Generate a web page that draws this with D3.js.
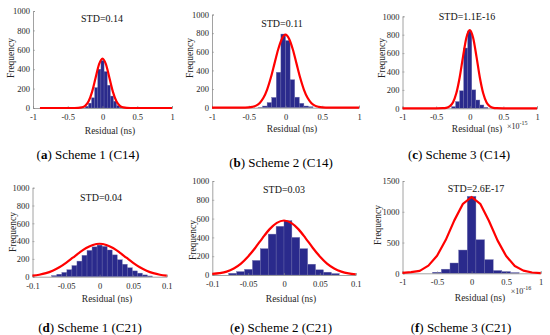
<!DOCTYPE html>
<html>
<head>
<meta charset="utf-8">
<script src="https://cdn.jsdelivr.net/npm/d3@7"></script>
<style>
  body { margin: 0; background: #fff; }
  svg text { font-family: "Liberation Serif", "Times New Roman", serif; }
</style>
</head>
<body>
<div id="chart"></div>
<script>
// histogram bins (centres, counts) and fitted curve samples per panel
var aCenters = [-0.225, -0.18, -0.135, -0.09, -0.045, 0, 0.045, 0.09, 0.135, 0.18, 0.225, 0.27];
var aCounts  = [18, 50, 105, 210, 400, 490, 375, 235, 123, 70, 25, 8];
var aFitX = [-0.9, -0.5, -0.4, -0.35, -0.3, -0.25, -0.2, -0.15, -0.1, -0.05, 0, 0.05, 0.1, 0.15, 0.2, 0.25, 0.3, 0.35, 0.4, 0.5, 1];
var aFitY = [0, 0, 0.2, 1, 6, 22, 69, 166, 309, 450, 510, 450, 309, 166, 69, 22, 6, 1, 0.2, 0, 0];

var bCenters = [-0.34375, -0.28125, -0.21875, -0.15625, -0.09375, -0.03125, 0.03125, 0.09375, 0.15625, 0.21875, 0.28125, 0.34375];
var bCounts  = [4, 18, 55, 110, 380, 790, 720, 300, 113, 47, 18, 10];
var bFitX = [-1, -0.6, -0.5, -0.45, -0.4, -0.35, -0.3, -0.25, -0.2, -0.15, -0.1, -0.05, 0, 0.05, 0.1, 0.15, 0.2, 0.25, 0.3, 0.35, 0.4, 0.45, 0.5, 0.6, 1];
var bFitY = [0, 0.3, 3, 9, 22, 51, 106, 195, 321, 473, 625, 738, 785, 738, 625, 473, 321, 195, 106, 51, 22, 9, 3, 0.3, 0];

var cCenters = [-0.24, -0.18, -0.12, -0.06, 0, 0.06, 0.12, 0.18, 0.24];
var cCounts  = [18, 73, 190, 655, 840, 200, 90, 36, 10];
var cFitX = [-1, -0.5, -0.4, -0.35, -0.3, -0.25, -0.2, -0.15, -0.1, -0.05, 0, 0.05, 0.1, 0.15, 0.2, 0.25, 0.3, 0.35, 0.4, 0.5, 1];
var cFitY = [0, 0, 1.2, 5, 21, 64, 163, 335, 562, 767, 850, 767, 562, 335, 163, 64, 21, 5, 1.2, 0, 0];

var dCenters = [-0.0675, -0.06, -0.0525, -0.045, -0.0375, -0.03, -0.0225, -0.015, -0.0075, 0,
                0.0075, 0.015, 0.0225, 0.03, 0.0375, 0.045, 0.0525, 0.06, 0.0675, 0.075];
var dCounts  = [12, 28, 48, 78, 125, 175, 240, 295, 335, 355, 340, 300, 245, 190, 140, 100, 65, 40, 20, 8];
var dFitX = [-0.1, -0.09, -0.08, -0.07, -0.06, -0.05, -0.04, -0.03, -0.02, -0.01, 0, 0.01, 0.02, 0.03, 0.04, 0.05, 0.06, 0.07, 0.08, 0.09, 0.1];
var dFitY = [12, 22, 40, 68, 106, 156, 213, 271, 322, 357, 370, 357, 322, 271, 213, 156, 106, 68, 40, 22, 12];

var eCenters = [-0.0715, -0.0605, -0.0495, -0.0385, -0.0275, -0.0165, -0.0055, 0.0055, 0.0165, 0.0275, 0.0385, 0.0495, 0.0605, 0.0715];
var eCounts  = [18, 36, 60, 155, 280, 435, 518, 578, 400, 280, 115, 55, 30, 15];
var eFitX = [-0.1, -0.09, -0.08, -0.07, -0.06, -0.05, -0.04, -0.03, -0.02, -0.01, 0, 0.01, 0.02, 0.03, 0.04, 0.05, 0.06, 0.07, 0.08, 0.09, 0.1];
var eFitY = [12, 20, 36, 70, 122, 197, 290, 393, 488, 555, 580, 555, 488, 393, 290, 197, 122, 70, 36, 17, 8];

var fCenters = [-0.5, -0.375, -0.25, -0.125, 0, 0.125, 0.25, 0.375, 0.5, 0.625];
var fCounts  = [17, 67, 167, 378, 1250, 545, 222, 45, 28, 11];
var fFitX = [-1, -0.875, -0.75, -0.625, -0.5, -0.375, -0.25, -0.125, 0, 0.125, 0.25, 0.375, 0.5, 0.625, 0.75, 0.875, 1];
var fFitY = [8, 18, 40, 125, 285, 540, 860, 1130, 1240, 1130, 855, 535, 280, 120, 44, 13, 3];

var wideTicks = [-1, -0.5, 0, 0.5, 1];
var narrowTicks = [-0.1, -0.05, 0, 0.05, 0.1];
var yTicks1000 = [0, 200, 400, 600, 800, 1000];
var yTicks1500 = [0, 500, 1000, 1500];

var stdLabels = ["STD=0.14", "STD=0.11", "STD=1.1E-16", "STD=0.04", "STD=0.03", "STD=2.6E-17"];
var captions = [["a", " Scheme 1 (C14)"], ["b", " Scheme 2 (C14)"], ["c", " Scheme 3 (C14)"],
                ["d", " Scheme 1 (C21)"], ["e", " Scheme 2 (C21)"], ["f", " Scheme 3 (C21)"]];

var panels = [
  {centers: aCenters, counts: aCounts, bw: 0.045, fx: aFitX, fy: aFitY, dom: [-1, 1], xt: wideTicks, ymax: 1000, yt: yTicks1000,
   x0: 33, x1: 172, y0: 108, y1: 11, std: [102, 22], cap: [88, 159], xl: [110, 134], yl: [11, 58], curve: d3.curveMonotoneX},
  {centers: bCenters, counts: bCounts, bw: 0.0625, fx: bFitX, fy: bFitY, dom: [-1, 1], xt: wideTicks, ymax: 1000, yt: yTicks1000,
   x0: 212, x1: 359, y0: 107.7, y1: 14.5, std: [282, 27], cap: [281, 167], xl: [292, 132], yl: [190, 58], curve: d3.curveMonotoneX},
  {centers: cCenters, counts: cCounts, bw: 0.06, fx: cFitX, fy: cFitY, dom: [-1, 1], xt: wideTicks, ymax: 1000, yt: yTicks1000,
   x0: 402.5, x1: 537, y0: 108.3, y1: 16.3, std: [467, 20], cap: [459, 159], xl: [477, 132], yl: [382, 58], exp: "-15", curve: d3.curveMonotoneX},
  {centers: dCenters, counts: dCounts, bw: 0.0075, fx: dFitX, fy: dFitY, dom: [-0.1, 0.1], xt: narrowTicks, ymax: 1000, yt: yTicks1000,
   x0: 32.5, x1: 166.7, y0: 276.7, y1: 187.7, std: [101, 201], cap: [90, 332], xl: [107, 302], yl: [13, 232], curve: d3.curveMonotoneX},
  {centers: eCenters, counts: eCounts, bw: 0.011, fx: eFitX, fy: eFitY, dom: [-0.1, 0.1], xt: narrowTicks, ymax: 1000, yt: yTicks1000,
   x0: 212.3, x1: 355.7, y0: 275, y1: 181, std: [284, 193], cap: [281, 332], xl: [291, 302], yl: [193, 240], curve: d3.curveMonotoneX},
  {centers: fCenters, counts: fCounts, bw: 0.125, fx: fFitX, fy: fFitY, dom: [-1, 1], xt: wideTicks, ymax: 1500, yt: yTicks1500,
   x0: 402.5, x1: 540.7, y0: 273.3, y1: 181, std: [476, 192], cap: [461, 332], xl: [480, 301], yl: [378, 225], exp: "-16", curve: d3.curveLinear}
];

var svg = d3.select("#chart").append("svg")
            .attr("width", 550)
            .attr("height", 335);

panels.forEach(function(p, i){
  var x = d3.scaleLinear().domain(p.dom).range([p.x0, p.x1]);
  var y = d3.scaleLinear().domain([0, p.ymax]).range([p.y0, p.y1]);
  var g = svg.append("g");

  // bars
  g.selectAll("rect")
    .data(p.centers)
    .enter().append("rect")
    .attr("x", function(d){ return x(d - p.bw / 2); })
    .attr("width", function(d){ return x(d + p.bw / 2) - x(d - p.bw / 2); })
    .attr("y", function(d, j){ return y(p.counts[j]); })
    .attr("height", function(d, j){ return p.y0 - y(p.counts[j]); })
    .attr("fill", "#2a2a8c")
    .attr("stroke", "#6c6caa")
    .attr("stroke-width", 0.4);

  // axes
  var xa = g.append("g")
    .attr("transform", "translate(0," + p.y0 + ")")
    .call(d3.axisBottom(x).tickValues(p.xt).tickSize(-2).tickPadding(6)
            .tickFormat(function(d){ return String(d); }));
  var ya = g.append("g")
    .attr("transform", "translate(" + p.x0 + ",0)")
    .call(d3.axisLeft(y).tickValues(p.yt).tickSize(-2).tickPadding(3)
            .tickFormat(function(d){ return String(d); }));
  [xa, ya].forEach(function(a){
    a.attr("font-family", null);
    a.select(".domain").attr("stroke", "#8a8a8a").attr("stroke-width", 0.8);
    a.selectAll(".tick line").attr("stroke", "#8a8a8a").attr("stroke-width", 0.6);
    a.selectAll("text").attr("font-size", 8.5).attr("fill", "#262626");
  });

  // fitted normal curve
  var line = d3.line()
    .x(function(d){ return x(d); })
    .y(function(d, j){ return y(p.fy[j]); })
    .curve(p.curve);
  g.append("path")
    .attr("d", line(p.fx))
    .attr("fill", "none")
    .attr("stroke", "#ff0000")
    .attr("stroke-width", 2.2)
    .attr("stroke-linejoin", "round");

  // texts
  g.append("text")
    .attr("x", p.std[0]).attr("y", p.std[1])
    .attr("text-anchor", "middle").attr("font-size", 10).attr("fill", "#111")
    .text(stdLabels[i]);

  g.append("text")
    .attr("x", p.xl[0]).attr("y", p.xl[1])
    .attr("text-anchor", "middle").attr("font-size", 9.5).attr("fill", "#262626")
    .text("Residual (ns)");

  g.append("text")
    .attr("transform", "translate(" + (p.yl[0] + 3) + "," + p.yl[1] + ") rotate(-90)")
    .attr("text-anchor", "middle").attr("font-size", 9.5).attr("fill", "#262626")
    .text("Frequency");

  if (p.exp) {
    var t = g.append("text")
      .attr("x", p.x1 - 30).attr("y", p.y0 + 21)
      .attr("font-size", 8).attr("fill", "#262626");
    t.append("tspan").text("\u00d710");
    t.append("tspan").attr("dy", -4).attr("font-size", 6).text(p.exp);
  }

  var cap = g.append("text")
    .attr("x", p.cap[0]).attr("y", p.cap[1])
    .attr("text-anchor", "middle").attr("font-size", 13).attr("fill", "#000");
  cap.append("tspan").text("(");
  cap.append("tspan").attr("font-weight", "bold").text(captions[i][0]);
  cap.append("tspan").text(")" + captions[i][1]);
});
</script>
</body>
</html>
